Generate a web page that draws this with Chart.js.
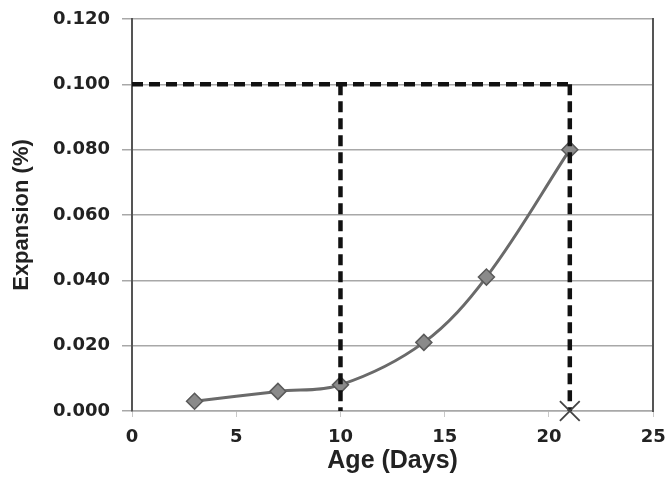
<!DOCTYPE html>
<html lang="en">
<head>
    <meta charset="UTF-8" />
    <title>Expansion vs Age</title>
    <script src="https://cdn.jsdelivr.net/npm/chart.js"></script>
    <style>
        body {
            margin: 0;
            padding: 0;
            background: #fff;
        }
        canvas {
            display: block;
        }
    </style>
</head>
<body>

    <canvas id="expChart" width="669" height="488"></canvas>

    <script>
        // measured points
        const ages = [3, 7, 10, 14, 17, 21];
        const expansion = [0.003, 0.006, 0.008, 0.021, 0.041, 0.080];

        // limit lines
        const limitValue = 0.100;
        const limitEndAge = 21;
        const earlyAge = 10;
        const markAge = 21;

        const xTicks = [0, 5, 10, 15, 20, 25];
        const yTicks = [0, 0.02, 0.04, 0.06, 0.08, 0.10, 0.12];

        const dashed = {
            type: 'line',
            borderColor: '#111',
            borderWidth: 4.5,
            borderDash: [11, 6],
            pointRadius: 0,
            fill: false,
            tension: 0
        };

        // let layout.padding alone decide the plot edges
        function noOverhang(s) {
            s.paddingLeft = 0;
            s.paddingRight = 0;
            s.paddingTop = 0;
            s.paddingBottom = 0;
        }

        const ctx = document.getElementById('expChart').getContext('2d');
        const expChart = new Chart(ctx, {
            type: 'scatter',
            data: {
                datasets: [
                    Object.assign({}, dashed, {
                        data: [{ x: 0, y: limitValue }, { x: limitEndAge, y: limitValue }]
                    }),
                    Object.assign({}, dashed, {
                        data: [{ x: earlyAge, y: limitValue }, { x: earlyAge, y: 0 }]
                    }),
                    Object.assign({}, dashed, {
                        data: [{ x: limitEndAge, y: limitValue }, { x: limitEndAge, y: 0 }]
                    }),
                    {
                        label: 'Expansion',
                        data: ages.map((a, i) => ({ x: a, y: expansion[i] })),
                        showLine: true,
                        borderColor: '#6a6a6a',
                        borderWidth: 3,
                        tension: 0.35,
                        pointStyle: 'rectRot',
                        pointRadius: 8,
                        pointBackgroundColor: '#8a8a8a',
                        pointBorderColor: '#5a5a5a',
                        pointBorderWidth: 1.5
                    },
                    {
                        data: [{ x: markAge, y: 0 }],
                        order: -1,
                        clip: false,
                        pointStyle: 'crossRot',
                        pointRadius: 14,
                        pointBorderColor: '#444',
                        pointBorderWidth: 1.8
                    }
                ]
            },
            options: {
                responsive: false,
                animation: false,
                layout: {
                    padding: { top: 19, right: 15, left: 0, bottom: 12 }
                },
                plugins: {
                    legend: { display: false },
                    tooltip: { enabled: false }
                },
                scales: {
                    x: {
                        type: 'linear',
                        min: 0,
                        max: 25,
                        afterBuildTicks: s => { s.ticks = xTicks.map(v => ({ value: v })); },
                        afterFit: s => { s.height = 65; noOverhang(s); },
                        grid: {
                            drawOnChartArea: false,
                            drawTicks: true,
                            tickLength: 6,
                            color: '#c8c8c8'
                        },
                        border: { color: '#a8a8a8', width: 1.5 },
                        ticks: {
                            color: '#222',
                            padding: 10,
                            font: { family: 'DejaVu Sans', weight: 'bold', size: 18 }
                        },
                        title: {
                            display: true,
                            text: 'Age (Days)',
                            color: '#222',
                            padding: { top: 2, bottom: 0 },
                            font: { family: 'Liberation Sans', weight: 'bold', size: 25 }
                        }
                    },
                    y: {
                        min: 0,
                        max: 0.12,
                        afterBuildTicks: s => { s.ticks = yTicks.map(v => ({ value: v })); },
                        afterFit: s => { s.width = 132; noOverhang(s); },
                        grid: {
                            color: '#a8a8a8',
                            lineWidth: 1.5,
                            tickLength: 10
                        },
                        border: { color: '#555', width: 2 },
                        ticks: {
                            color: '#222',
                            padding: 12,
                            font: { family: 'DejaVu Sans', weight: 'bold', size: 18 },
                            callback: v => v.toFixed(3)
                        },
                        title: {
                            display: true,
                            text: 'Expansion (%)',
                            color: '#222',
                            padding: { top: 9, bottom: 4 },
                            font: { family: 'Liberation Sans', weight: 'bold', size: 22 }
                        }
                    },
                    y2: {
                        position: 'right',
                        min: 0,
                        max: 0.12,
                        afterFit: s => { s.width = 0; noOverhang(s); },
                        grid: { display: false },
                        ticks: { display: false },
                        border: { color: '#555', width: 2 }
                    }
                }
            }
        });
    </script>

</body>
</html>
